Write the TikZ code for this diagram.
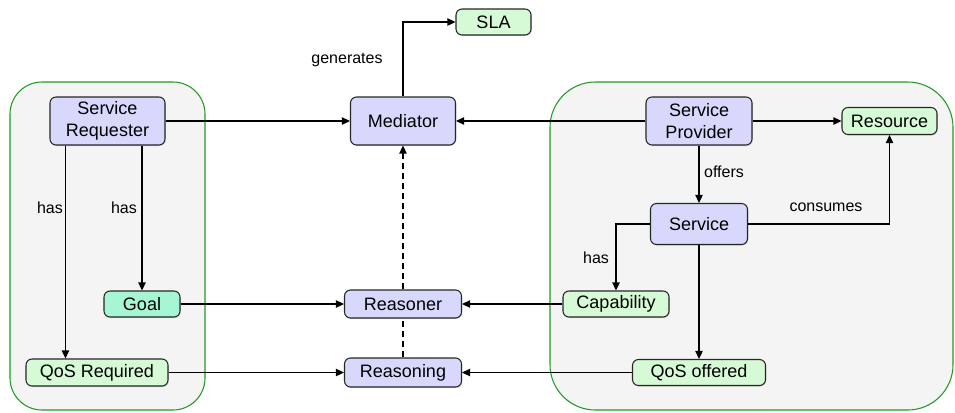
\documentclass[tikz,border=0pt]{standalone}
\usepackage{fontspec}
\setmainfont{Liberation Sans}
\usetikzlibrary{arrows.meta,positioning,shadows}
\definecolor{NodeBlue}{HTML}{D8D8FC}
\definecolor{NodeGreen}{HTML}{D6FAD6}
\definecolor{GoalMint}{HTML}{A6F5D4}
\definecolor{PanelGray}{HTML}{F4F4F4}
\definecolor{PanelGreen}{HTML}{229A22}

\begin{document}
\begin{tikzpicture}[
  x=0.75pt,y=-0.75pt,
  every node/.style={align=center},
  box/.style={draw=black!85,line width=0.8pt,rounded corners=4.5pt,inner sep=0pt,
    font=\fontsize{13.5}{16.5}\selectfont,
    drop shadow={shadow xshift=0.6pt,shadow yshift=-0.8pt,opacity=0.25}},
  blue/.style={box,fill=NodeBlue},
  green/.style={box,fill=NodeGreen},
  panel/.style={draw=PanelGreen,fill=PanelGray,line width=0.8pt},
  lbl/.style={font=\fontsize{12}{14}\selectfont,inner sep=0pt},
  arr/.style={-{Triangle[length=6pt,width=5.5pt]},line width=0.9pt},
  dash line/.style={dash pattern=on 4.5pt off 3pt,line width=0.9pt}
]
\useasboundingbox (0,0) rectangle (955,412);
% requester and provider sides
\draw[panel,rounded corners=24pt] (10,82) rectangle (205,410);
\draw[panel,rounded corners=34pt] (550,82) rectangle (953,410);

\node[blue,minimum width=86.25pt,minimum height=36pt] (req) at (107.5,121) {Service\\Requester};
\node[blue,minimum width=78.75pt,minimum height=36pt] (med) at (403,121) {Mediator};
\node[green,minimum width=56.25pt,minimum height=19.5pt] (sla) at (493.5,22) {SLA};
\node[blue,minimum width=79.5pt,minimum height=36pt] (prov) at (699,121) {Service\\Provider};
\node[green,minimum width=71.25pt,minimum height=20.25pt] (res) at (889.5,121) {Resource};
\node[blue,minimum width=72.75pt,minimum height=30.75pt] (serv) at (699,224) {Service};
\node[box,fill=GoalMint,minimum width=57pt,minimum height=19.5pt] (goal) at (142,304) {Goal};
\node[blue,minimum width=87.75pt,minimum height=21pt] (rsnr) at (403,304) {Reasoner};
\node[green,minimum width=79.5pt,minimum height=19.5pt] (cap) at (616,304) {Capability};
\node[green,minimum width=106.5pt,minimum height=20.25pt] (qreq) at (97,372.5) {QoS Required};
\node[blue,minimum width=87.75pt,minimum height=21.75pt] (rsng) at (403,372.5) {Reasoning};
\node[green,minimum width=99.75pt,minimum height=19.5pt] (qoff) at (699,372.5) {QoS offered};

\draw[arr] (req) -- (med);
\draw[arr] (prov) -- (med);
\draw[arr] (prov) -- (res);
\draw[arr] (med.north) |- (sla.west);
\draw[arr] (prov) -- (serv);
\draw[arr] (serv.east) -| (res.south);
\draw[arr] (serv.west) -| (cap.north);
\draw[arr] (serv) -- (qoff);
\draw[arr] (cap) -- (rsnr);
\draw[arr] (qoff) -- (rsng);
\draw[arr] (goal) -- (rsnr);
\draw[arr] (qreq) -- (rsng);
\draw[arr] ([xshift=12pt]req.south west) -- ([xshift=12pt]req.south west |- qreq.north);
\draw[arr] (req.south -| goal.north) -- (goal.north);
\draw[dash line] (rsng) -- (rsnr);
\draw[arr,dash line] (rsnr) -- (med);

\node[lbl] (gen) at (347,60) {generates};
\node[lbl] (has1) at (50,208) {has};
\node[lbl] (has2) at (124,208) {has};
\node[lbl] (off) at (724,172) {offers};
\node[lbl] (cons) at (826,207) {consumes};
\node[lbl] (has3) at (596,258) {has};
\end{tikzpicture}
\end{document}
